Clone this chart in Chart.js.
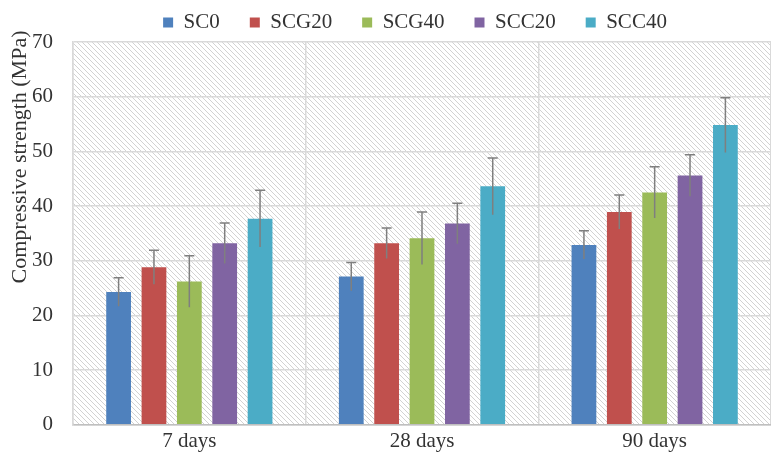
<!DOCTYPE html>
<html>
<head>
<meta charset="utf-8">
<script src="https://cdn.jsdelivr.net/npm/chart.js@4.4.0/dist/chart.umd.min.js"></script>
<style>
    html, body { margin: 0; padding: 0; background: #fff; overflow: hidden; }
    #wrap { width: 771px; height: 465px; position: relative; }
</style>
</head>
<body>
<div id="wrap"><canvas id="strength-chart"></canvas></div>
<script>
    // Chart data
    const categories = ['7 days', '28 days', '90 days'];
    const seriesNames = ['SC0', 'SCG20', 'SCG40', 'SCC20', 'SCC40'];
    const sc0 = [24.3, 27.1, 32.9];
    const scg20 = [28.8, 33.2, 38.9];
    const scg40 = [26.2, 34.1, 42.5];
    const scc20 = [33.2, 36.8, 45.6];
    const scc40 = [37.7, 43.6, 54.8];
    const sc0Err = [2.6, 2.6, 2.6];
    const scg20Err = [3.1, 2.8, 3.1];
    const scg40Err = [4.7, 4.8, 4.7];
    const scc20Err = [3.7, 3.7, 3.8];
    const scc40Err = [5.2, 5.2, 5.0];
    const yMin = 0, yMax = 70, yStep = 10;
    const yTitle = 'Compressive strength (MPa)';

    const seriesValues = [sc0, scg20, scg40, scc20, scc40];
    const seriesErrors = [sc0Err, scg20Err, scg40Err, scc20Err, scc40Err];
    const seriesColors = ['#4F81BD', '#C0504D', '#9BBB59', '#8064A2', '#4BACC6'];

    const serif = "'Liberation Serif', 'Times New Roman', serif";

    // Diagonal hatch behind the plot area
    function makeHatch() {
        const p = document.createElement('canvas');
        p.width = 5;
        p.height = 5;
        const pc = p.getContext('2d');
        pc.strokeStyle = '#d2d2d2';
        pc.lineWidth = 1;
        pc.beginPath();
        pc.moveTo(-1, -1); pc.lineTo(6, 6);
        pc.moveTo(-1, 4); pc.lineTo(1, 6);
        pc.moveTo(4, -1); pc.lineTo(6, 1);
        pc.stroke();
        return p;
    }

    const hatchPlugin = {
        id: 'hatch',
        beforeDraw(chart) {
            const {ctx, chartArea: a} = chart;
            ctx.save();
            ctx.fillStyle = ctx.createPattern(makeHatch(), 'repeat');
            ctx.fillRect(a.left, a.top, a.right - a.left, a.bottom - a.top);
            ctx.restore();
        }
    };

    // Error bars with caps
    const errorBarPlugin = {
        id: 'errorBars',
        afterDatasetsDraw(chart) {
            const {ctx} = chart;
            const yScale = chart.scales.y;
            ctx.save();
            ctx.strokeStyle = '#7f7f7f';
            ctx.lineWidth = 1.5;
            chart.data.datasets.forEach((ds, i) => {
                const meta = chart.getDatasetMeta(i);
                meta.data.forEach((bar, j) => {
                    const v = ds.data[j], e = seriesErrors[i][j];
                    const yTop = yScale.getPixelForValue(v + e);
                    const yBot = yScale.getPixelForValue(v - e);
                    const x = bar.x, cap = 5;
                    ctx.beginPath();
                    ctx.moveTo(x, yTop); ctx.lineTo(x, yBot);
                    ctx.moveTo(x - cap, yTop); ctx.lineTo(x + cap, yTop);
                    ctx.stroke();
                });
            });
            ctx.restore();
        }
    };

    // Y axis title, placed like the original (a bit above centre)
    const yTitlePlugin = {
        id: 'yTitle',
        afterDraw(chart) {
            const {ctx} = chart;
            ctx.save();
            ctx.translate(20, 157);
            ctx.rotate(-Math.PI / 2);
            ctx.fillStyle = '#333';
            ctx.font = '22px ' + serif;
            ctx.textAlign = 'center';
            ctx.textBaseline = 'middle';
            ctx.fillText(yTitle, 0, 0);
            ctx.restore();
        }
    };

    // Move legend: centred over plot area, near the top
    const legendPlacePlugin = {
        id: 'legendPlace',
        afterLayout(chart) {
            const lg = chart.legend;
            const a = chart.chartArea;
            lg.left = a.left - 7;
            lg.right = a.right - 7;
            lg.top = -18;
            lg.bottom = 60;
        }
    };

    const ctx = document.getElementById('strength-chart');
    new Chart(ctx, {
        type: 'bar',
        data: {
            labels: categories,
            datasets: seriesNames.map((name, i) => ({
                label: name,
                data: seriesValues[i],
                backgroundColor: seriesColors[i],
                borderWidth: 0,
                categoryPercentage: 0.76,
                barPercentage: 0.7
            }))
        },
        options: {
            responsive: true,
            maintainAspectRatio: false,
            animation: false,
            layout: {
                padding: { top: 0, left: 2, right: -6, bottom: 7 }
            },
            plugins: {
                legend: {
                    position: 'top',
                    maxHeight: 42,
                    labels: {
                        boxWidth: 10,
                        boxHeight: 10,
                        padding: 30,
                        color: '#333',
                        font: { family: serif, size: 21 }
                    }
                },
                tooltip: { enabled: false }
            },
            scales: {
                x: {
                    grid: {
                        color: '#d9d9d9',
                        lineWidth: 1.5,
                        drawTicks: false
                    },
                    border: { color: '#bfbfbf', width: 1.5 },
                    ticks: {
                        color: '#333',
                        padding: 4,
                        font: { family: serif, size: 21 }
                    }
                },
                y: {
                    min: yMin,
                    max: yMax,
                    afterFit(scale) {
                        scale.width = 71;
                    },
                    ticks: {
                        stepSize: yStep,
                        color: '#333',
                        padding: 20,
                        font: { family: serif, size: 21 }
                    },
                    grid: {
                        color: '#d9d9d9',
                        lineWidth: 1.5,
                        drawTicks: false
                    },
                    border: { color: '#d9d9d9', width: 1.5 }
                }
            }
        },
        plugins: [hatchPlugin, errorBarPlugin, yTitlePlugin, legendPlacePlugin]
    });
</script>
</body>
</html>
